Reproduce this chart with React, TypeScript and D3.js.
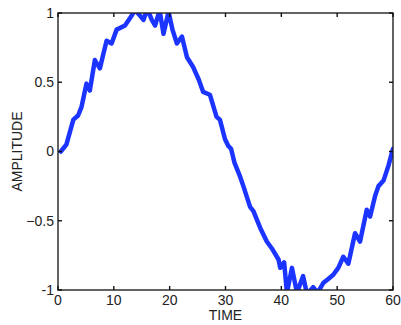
import React from "react";
import * as d3 from "d3";

// sampled off the reference trace
const time = [
  0.5, 1.5, 2.75, 3.6, 4.2, 5.1, 5.7, 6.6, 7.5, 8.7, 9.6, 10.5, 12, 13, 13.8, 14.5,
  15.3, 16, 16.8, 17.4, 18.2, 18.9, 19.8, 20.5, 21.3, 22.2, 23.1, 24.2, 25.2, 26,
  27.2, 28.4, 29, 29.9, 30.5, 31, 31.6, 32.6, 33.2, 34.4, 35, 36.2, 37.4, 38.3,
  39.5, 39.8, 40.5, 41, 41.9, 42.8, 43.9, 44.6, 45.7, 46.5, 47.5, 48.4, 49.3,
  50.2, 51.1, 52, 53.2, 54.1, 55.3, 55.9, 56.8, 57.4, 58.3, 59.2, 59.8, 60,
];
const amplitude = [
  0.0, 0.05, 0.23, 0.26, 0.32, 0.49, 0.44, 0.66, 0.6, 0.8, 0.78, 0.88, 0.91, 0.97,
  1.02, 0.99, 0.95, 1.03, 0.95, 0.91, 1.02, 0.85, 1.01, 0.88, 0.78, 0.83, 0.68,
  0.61, 0.52, 0.43, 0.41, 0.25, 0.23, 0.09, 0.04, 0.02, -0.08, -0.18, -0.25, -0.4,
  -0.43, -0.55, -0.65, -0.7, -0.78, -0.84, -0.8, -1.02, -0.84, -1.02, -0.9, -1.03,
  -0.98, -1.02, -0.95, -0.92, -0.89, -0.84, -0.76, -0.81, -0.59, -0.65, -0.42,
  -0.47, -0.32, -0.25, -0.21, -0.1, -0.01, 0.02,
];
const xTicks = [0, 10, 20, 30, 40, 50, 60];
const yTicks = [-1, -0.5, 0, 0.5, 1];

const W = 401;
const H = 325;
const left = 58, right = 393, top = 13, bottom = 290;

export default function App() {
  const x = d3.scaleLinear().domain([0, 60]).range([left, right]);
  const y = d3.scaleLinear().domain([-1, 1]).range([bottom, top]);

  const pts = time.map((t, i) => [t, amplitude[i]] as [number, number]);
  const line = d3
    .line<[number, number]>()
    .x((d) => x(d[0]))
    .y((d) => y(d[1]))
    .curve(d3.curveLinear);

  const font = "'Liberation Sans', Arial, sans-serif";
  const tickLen = 4;

  return (
    <svg
      width={W}
      height={H}
      style={{ position: "absolute", left: 0, top: 0, background: "#fff" }}
    >
      <defs>
        <clipPath id="plot">
          <rect x={left} y={top} width={right - left} height={bottom - top} />
        </clipPath>
      </defs>

      <path
        d={line(pts) || ""}
        fill="none"
        stroke="#1c34ff"
        strokeWidth={4.5}
        strokeLinejoin="round"
        strokeLinecap="round"
        clipPath="url(#plot)"
      />

      <rect
        x={left}
        y={top}
        width={right - left}
        height={bottom - top}
        fill="none"
        stroke="#222"
        strokeWidth={1.4}
      />

      {xTicks.map((t) => (
        <g key={"x" + t}>
          <line x1={x(t)} x2={x(t)} y1={bottom} y2={bottom - tickLen} stroke="#111" strokeWidth={1.4} />
          <line x1={x(t)} x2={x(t)} y1={top} y2={top + tickLen} stroke="#111" strokeWidth={1.4} />
          <text
            x={x(t)}
            y={305}
            textAnchor="middle"
            fontFamily={font}
            fontSize={14}
            fill="#222"
          >
            {t}
          </text>
        </g>
      ))}

      {yTicks.map((t) => (
        <g key={"y" + t}>
          <line x1={left} x2={left + tickLen} y1={y(t)} y2={y(t)} stroke="#111" strokeWidth={1.4} />
          <line x1={right} x2={right - tickLen} y1={y(t)} y2={y(t)} stroke="#111" strokeWidth={1.4} />
          <text
            x={54}
            y={y(t)}
            dy="0.35em"
            textAnchor="end"
            fontFamily={font}
            fontSize={14}
            fill="#222"
          >
            {t === -1 || t === 1 || t === 0 ? t : t.toFixed(1).replace("-", "\u2212")}
          </text>
        </g>
      ))}

      <text
        x={x(30)}
        y={320}
        textAnchor="middle"
        fontFamily={font}
        fontSize={14}
        fill="#222"
      >
        TIME
      </text>
      <text
        transform={`translate(22, ${(top + bottom) / 2}) rotate(-90)`}
        textAnchor="middle"
        fontFamily={font}
        fontSize={14}
        fill="#222"
      >
        AMPLITUDE
      </text>
    </svg>
  );
}
